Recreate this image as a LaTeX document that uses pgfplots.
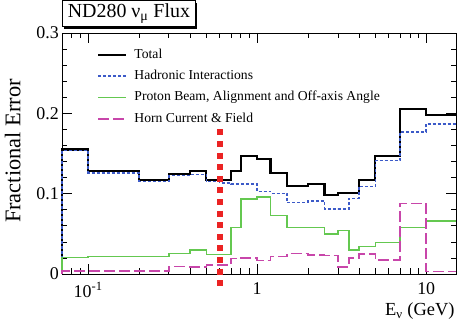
\documentclass[border=0pt]{standalone}
\usepackage{fontspec}
\setmainfont{Liberation Serif}
\usepackage{pgfplots}
\pgfplotsset{compat=1.18}
\usetikzlibrary{shadows}
\definecolor{hadblue}{RGB}{60,90,200}
\definecolor{pgreen}{RGB}{100,200,80}
\definecolor{hmag}{RGB}{200,70,170}
\definecolor{vred}{RGB}{235,35,35}
\begin{document}
\begin{tikzpicture}
\begin{axis}[
  at={(0,0)}, anchor=south west,
  scale only axis, width=394bp, height=241bp,
  xmode=log, xmin=0.07, xmax=15, ymin=0, ymax=0.3,
  clip=false,
  axis line style={line width=0.8bp},
  tick align=inside, xtick pos=both, ytick pos=both,
  major tick length=10bp, minor tick length=5.5bp,
  every tick/.style={black, line width=0.7bp},
  xtick={0.1,1,10}, xticklabels={10\textsuperscript{-1},1,10},
  minor xtick={0.08,0.09,0.2,0.3,0.4,0.5,0.6,0.7,0.8,0.9,2,3,4,5,6,7,8,9},
  ytick={0,0.1,0.2,0.3}, yticklabels={0,0.1,0.2,0.3}, minor y tick num=4,
  tick label style={font=\fontsize{18}{20}\selectfont},
  yticklabel style={inner xsep=3bp},
  xticklabel style={yshift=-5bp},
  ylabel={Fractional Error},
  ylabel style={at={(axis description cs:-0.125,0.51)}, anchor=center, font=\fontsize{22.5}{26}\selectfont},
  xlabel={E\textsubscript{ν} (GeV)},
  xlabel style={at={(axis description cs:1.005,-0.174)}, anchor=base east, font=\fontsize{18.5}{21}\selectfont},
  legend style={at={(axis description cs:0.089,0.937)}, anchor=north west, draw=none, fill=none,
    font=\fontsize{13.7}{16}\selectfont, inner sep=0pt, row sep=8.3bp,
    nodes={inner sep=0pt, text height=10bp, text depth=3bp},
    /tikz/every odd column/.append style={column sep=7bp}},
  legend cell align=left,
  legend image code/.code={\draw[#1] (0bp,0bp) -- (28bp,0bp);},
]
\addplot[black, line width=2.2bp, const plot] coordinates {
(0.07,0) (0.07,0.155) (0.1,0.128) (0.2,0.117) (0.3,0.124) (0.4,0.128) (0.5,0.117) (0.6,0.117) (0.7,0.128) (0.8,0.147) (1.0,0.143) (1.2,0.126) (1.5,0.110) (2.0,0.112) (2.5,0.098) (3.0,0.1005) (3.5,0.1005) (4.0,0.117) (5.0,0.147) (7.0,0.2055) (10,0.198) (15,0.198)};
\addlegendentry{Total}
\addplot[hadblue, line width=1.5bp, dash pattern=on 3bp off 2bp, const plot] coordinates {
(0.07,0) (0.07,0.1535) (0.1,0.126) (0.2,0.115) (0.3,0.1225) (0.4,0.124) (0.5,0.115) (0.6,0.113) (0.7,0.112) (0.8,0.112) (1.0,0.103) (1.2,0.1005) (1.5,0.089) (2.0,0.091) (2.5,0.081) (3.0,0.081) (3.5,0.094) (4.0,0.109) (5.0,0.141) (7.0,0.1765) (10,0.187) (15,0.187)};
\addlegendentry{Hadronic Interactions}
\addplot[pgreen, line width=1.5bp, const plot] coordinates {
(0.07,0) (0.07,0.0205) (0.1,0.0215) (0.2,0.0218) (0.3,0.0255) (0.4,0.030) (0.5,0.024) (0.6,0.024) (0.7,0.058) (0.8,0.0935) (1.0,0.096) (1.2,0.0726) (1.5,0.058) (2.0,0.058) (2.5,0.050) (3.0,0.054) (3.5,0.030) (4.0,0.034) (5.0,0.039) (7.0,0.058) (10,0.066) (15,0.066)};
\addlegendentry{Proton Beam, Alignment and Off-axis Angle}
\addplot[hmag, line width=1.5bp, dash pattern=on 11bp off 4bp, const plot] coordinates {
(0.07,0) (0.07,0.0035) (0.1,0.0035) (0.2,0.0035) (0.3,0.0095) (0.4,0.009) (0.5,0.0115) (0.6,0.0115) (0.7,0.019) (0.8,0.0198) (1.0,0.0166) (1.2,0.022) (1.5,0.0255) (2.0,0.0237) (2.5,0.023) (3.0,0.0088) (3.5,0.020) (4.0,0.025) (5.0,0.0174) (7.0,0.088) (10,0.003) (15,0.003)};
\addlegendentry{Horn Current \& Field}
\addplot[vred, line width=6bp, dash pattern=on 6bp off 5.6bp, forget plot] coordinates {(0.6,0.18) (0.6,-0.0145)};
\node[draw, line width=0.8bp, fill=white, minimum width=133bp, minimum height=26bp, inner sep=0pt,
  anchor=south west, font=\fontsize{20}{22}\selectfont,
  drop shadow={shadow xshift=2bp, shadow yshift=-2bp, fill=black, opacity=1}]
  at (axis description cs:0,1.025) {ND280 ν\textsubscript{μ} Flux};
\end{axis}
\pgfresetboundingbox
\path (-62bp,-48bp) rectangle (399bp,274bp);
\end{tikzpicture}
\end{document}
